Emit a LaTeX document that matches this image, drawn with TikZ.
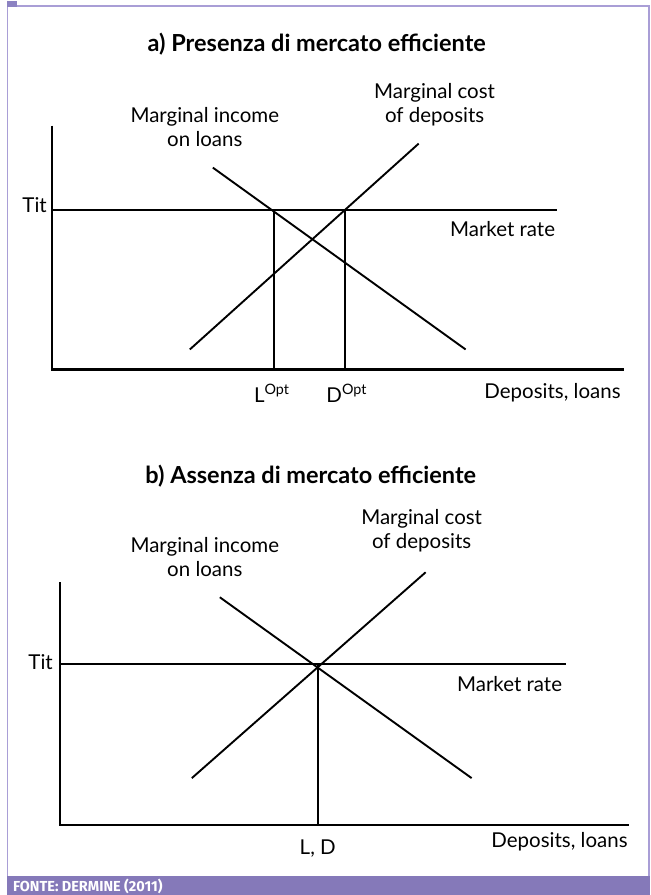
\documentclass[tikz,border=0pt]{standalone}
\usepackage{fontspec}
\setmainfont{Lato}
\newfontfamily\notefont{Fira Sans}
\usepackage{tikz}

\definecolor{frameline}{HTML}{A99ED6}
\definecolor{framebar}{HTML}{8579B9}
\definecolor{framesq}{HTML}{8C82C2}

\tikzset{
	axisline/.style={line width=2.2pt},
	curveline/.style={line width=1.9pt},
	lbl/.style={font=\fontsize{20.5}{24}\selectfont, align=center, inner sep=0pt},
	paneltitle/.style={font=\fontsize{23.5}{26}\selectfont\bfseries, inner sep=0pt}
}

\begin{document}
\begin{tikzpicture}[x=1pt,y=-1pt]
			{\useasboundingbox (0,0) rectangle (651,895);}
			% frame
			{\fill[framebar] (7,876) rectangle (651,895);}
			{\draw[frameline, line width=1.5pt] (7.5,0) -- (7.5,876);}
			{\draw[frameline, line width=1.5pt] (7.5,5.5) -- (649.5,5.5) -- (649.5,876);}
			{\fill[framesq] (7,0) rectangle (17,6.5);}
			{\node[anchor=west, text=white, inner sep=0pt, font=\notefont\fontsize{14.5}{16}\selectfont\bfseries] (fonte) at (13,886) {FONTE: DERMINE (2011)};}

			% a) Presenza di mercato efficiente
			{\node[paneltitle] (atitle) at (317,43) {a) Presenza di mercato efficiente};}
			{\coordinate (aorig) at (52,369);}
			{\coordinate (atop) at (52,125);}
			{\coordinate (aend) at (625,369);}
			{\coordinate (atit) at (52,209);}
			{\coordinate (atitend) at (557,209);}
			{\coordinate (ainc1) at (213,167);}
			{\coordinate (ainc2) at (466,349);}
			{\coordinate (acost1) at (190,349);}
			{\coordinate (acost2) at (419,143);}
			{\coordinate (aLtop) at (274,209);}
			{\coordinate (aLbot) at (274,369);}
			{\coordinate (aDtop) at (345,209);}
			{\coordinate (aDbot) at (345,369);}
			{\draw[axisline] (atop) -- (aorig) -- (aend);}
			{\draw[curveline] (atit) -- (atitend);}
			{\draw[curveline] (ainc1) -- (ainc2);}
			{\draw[curveline] (acost1) -- (acost2);}
			{\draw[curveline] (aLtop) -- (aLbot);}
			{\draw[curveline] (aDtop) -- (aDbot);}
			{\node[lbl] (ainclbl) at (205,126) {Marginal income\\on loans};}
			{\node[lbl] (acostlbl) at (435,104) {Marginal cost\\of deposits};}
			{\node[lbl, anchor=east] (atitlbl) at (47,205) {Tit};}
			{\node[lbl] (amkt) at (503,228) {Market rate};}
			{\node[lbl] (aLlbl) at (272,393) {L\textsuperscript{Opt}};}
			{\node[lbl] (aDlbl) at (347,393) {D\textsuperscript{Opt}};}
			{\node[lbl] (axlbl) at (553,392) {Deposits, loans};}

			% b) Assenza di mercato efficiente
			{\node[paneltitle] (btitle) at (311,476) {b) Assenza di mercato efficiente};}
			{\coordinate (borig) at (60,825);}
			{\coordinate (btop) at (60,582);}
			{\coordinate (bend) at (630,825);}
			{\coordinate (btit) at (60,664);}
			{\coordinate (btitend) at (566,664);}
			{\coordinate (binc1) at (220,597);}
			{\coordinate (binc2) at (472,778);}
			{\coordinate (bcost1) at (192,778);}
			{\coordinate (bcost2) at (426,572);}
			{\coordinate (beq) at (318,664);}
			{\coordinate (beqbot) at (318,825);}
			{\draw[axisline] (btop) -- (borig) -- (bend);}
			{\draw[curveline] (btit) -- (btitend);}
			{\draw[curveline] (binc1) -- (binc2);}
			{\draw[curveline] (bcost1) -- (bcost2);}
			{\draw[curveline] (beq) -- (beqbot);}
			{\node[lbl] (binclbl) at (205,557) {Marginal income\\on loans};}
			{\node[lbl] (bcostlbl) at (422,530) {Marginal cost\\of deposits};}
			{\node[lbl, anchor=east] (btitlbl) at (53,662) {Tit};}
			{\node[lbl] (bmkt) at (510,684) {Market rate};}
			{\node[lbl] (blbl) at (318,849) {L, D};}
			{\node[lbl] (bxlbl) at (560,842) {Deposits, loans};}
		\end{tikzpicture}
\end{document}
